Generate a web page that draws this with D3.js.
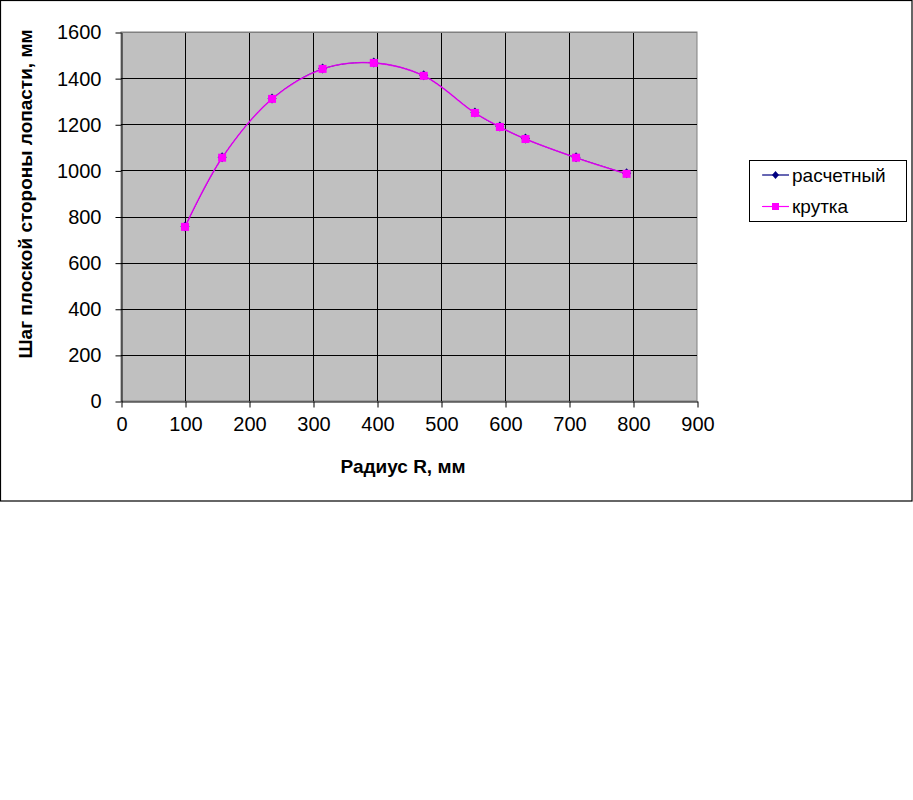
<!DOCTYPE html>
<html>
<head>
<meta charset="utf-8">
<script src="https://cdn.jsdelivr.net/npm/d3@7"></script>
<style>
  body { margin: 0; background: #fff; }
  svg { display: block; font-family: "Liberation Sans", Arial, sans-serif; }
</style>
</head>
<body>
<svg id="vis" width="913" height="800"></svg>
<script>
// radius of the blade section, mm
const RADIUS = [100, 158, 236, 315, 395, 473, 553, 592, 632, 711, 790];
// computed pitch ("расчетный")
const PITCH_CALC = [755, 1055, 1310, 1440, 1466, 1410, 1249, 1188, 1136, 1055, 985];
// twist ("крутка")
const PITCH_TWIST = [755, 1055, 1310, 1440, 1466, 1410, 1249, 1188, 1136, 1055, 985];
const X_TICKS = [0, 100, 200, 300, 400, 500, 600, 700, 800, 900];
const Y_TICKS = [0, 200, 400, 600, 800, 1000, 1200, 1400, 1600];
const SERIES_NAMES = ["расчетный", "крутка"];
const X_LABEL = "Радиус R, мм";
const Y_LABEL = "Шаг плоской стороны лопасти, мм";

const PLOT = {left: 121, right: 697, top: 32, bottom: 401};
const NAVY = "#000080", MAGENTA = "#FF00FF";

const svg = d3.select("#vis");

// outer chart frame
svg.append("rect")
    .attr("x", 0.5).attr("y", 0.5)
    .attr("width", 911.5).attr("height", 500.5)
    .attr("fill", "#fff").attr("stroke", "#000").attr("stroke-width", 1.2);

const x = d3.scaleLinear().domain([0, 900]).range([PLOT.left, PLOT.right]);
const y = d3.scaleLinear().domain([0, 1600]).range([PLOT.bottom, PLOT.top]);

// plot area
svg.append("rect")
    .attr("x", PLOT.left).attr("y", PLOT.top)
    .attr("width", PLOT.right - PLOT.left).attr("height", PLOT.bottom - PLOT.top)
    .attr("fill", "#C0C0C0").attr("stroke", "#808080");

// gridlines
svg.append("g").selectAll("line")
    .data(X_TICKS.slice(1, -1)).join("line")
    .attr("x1", d => Math.round(x(d)) + 0.5).attr("x2", d => Math.round(x(d)) + 0.5)
    .attr("y1", PLOT.top).attr("y2", PLOT.bottom)
    .attr("stroke", "#000");
svg.append("g").selectAll("line")
    .data(Y_TICKS.slice(1, -1).concat([1600])).join("line")
    .attr("y1", d => Math.round(y(d)) + 0.5).attr("y2", d => Math.round(y(d)) + 0.5)
    .attr("x1", PLOT.left).attr("x2", PLOT.right)
    .attr("stroke", d => d === 1600 ? "#808080" : "#000");

// axes
const fmt = d3.format("d");
const xAxis = svg.append("g")
    .attr("transform", `translate(0.5,${PLOT.bottom + 0.5})`)
    .call(d3.axisBottom(x).tickValues(X_TICKS).tickFormat(fmt)
        .tickSize(6).tickSizeOuter(0).tickPadding(9));
const yAxis = svg.append("g")
    .attr("transform", `translate(${PLOT.left + 0.5},0.5)`)
    .call(d3.axisLeft(y).tickValues(Y_TICKS).tickFormat(fmt)
        .tickSize(6).tickSizeOuter(0).tickPadding(14));
[xAxis, yAxis].forEach(g => {
    g.select(".domain").attr("stroke", "#000");
    g.selectAll(".tick line").attr("stroke", "#000");
    g.selectAll(".tick text").attr("font-size", 20).attr("fill", "#000")
        .attr("font-family", "Liberation Sans, Arial, sans-serif");
});

// axis titles
svg.append("text")
    .attr("x", 403).attr("y", 473)
    .attr("text-anchor", "middle").attr("font-weight", "bold").attr("font-size", 19)
    .text(X_LABEL);
svg.append("text")
    .attr("transform", "translate(32,194) rotate(-90)")
    .attr("text-anchor", "middle").attr("font-weight", "bold").attr("font-size", 19)
    .text(Y_LABEL);

const line = d3.line()
    .x(d => x(d[0])).y(d => y(d[1]))
    .curve(d3.curveCatmullRom.alpha(0.5));

const calc = d3.zip(RADIUS, PITCH_CALC);
const twist = d3.zip(RADIUS, PITCH_TWIST);

// series 1: расчетный
svg.append("path").datum(calc)
    .attr("d", line).attr("fill", "none").attr("stroke", NAVY).attr("stroke-width", 1);
svg.append("g").selectAll("path").data(calc).join("path")
    .attr("transform", d => `translate(${x(d[0])},${y(d[1]) - 0.5})`)
    .attr("d", "M0,-5L4.5,0L0,5L-4.5,0Z").attr("fill", NAVY);

// series 2: крутка
svg.append("path").datum(twist)
    .attr("d", line).attr("fill", "none").attr("stroke", MAGENTA)
    .attr("stroke-width", 1.6).attr("stroke-opacity", 0.8);
svg.append("g").selectAll("rect").data(twist).join("rect")
    .attr("x", d => x(d[0]) - 4).attr("y", d => y(d[1]) - 4)
    .attr("width", 8).attr("height", 8).attr("fill", MAGENTA);

// legend
const legend = svg.append("g");
legend.append("rect")
    .attr("x", 749.5).attr("y", 160.5).attr("width", 157).attr("height", 61)
    .attr("fill", "#fff").attr("stroke", "#000");
const items = legend.selectAll("g.item").data(SERIES_NAMES).join("g")
    .attr("class", "item")
    .attr("transform", (d, i) => `translate(762,${175 + i * 31.5})`);
items.append("line")
    .attr("x1", 0).attr("x2", 27).attr("y1", 0).attr("y2", 0)
    .attr("stroke", (d, i) => i === 0 ? NAVY : MAGENTA).attr("stroke-width", 1.2);
items.append("path")
    .attr("d", (d, i) => i === 0 ? "M13.5,-4L17,0L13.5,4L10,0Z" : "M10,-3.5H17V3.5H10Z")
    .attr("fill", (d, i) => i === 0 ? NAVY : MAGENTA);
items.append("text")
    .attr("x", 30).attr("y", 0).attr("dy", "0.35em")
    .attr("font-size", 19)
    .text(d => d);
</script>
</body>
</html>
